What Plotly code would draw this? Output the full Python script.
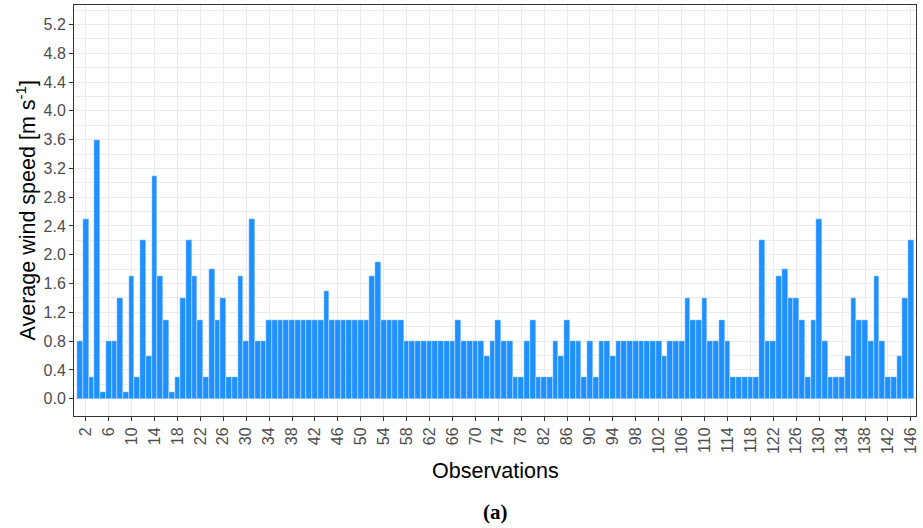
import plotly.graph_objects as go

# Data: average wind speed per observation (m/s)
observations = list(range(1, 147))
wind_speed = (
    [0.8, 2.5, 0.3, 3.6, 0.1, 0.8, 0.8, 1.4, 0.1, 1.7,
     0.3, 2.2, 0.6, 3.1, 1.7, 1.1, 0.1, 0.3, 1.4, 2.2,
     1.7, 1.1, 0.3, 1.8, 1.1, 1.4, 0.3, 0.3, 1.7, 0.8,
     2.5, 0.8, 0.8]
    + [1.1] * 10            # 34-43
    + [1.5]                 # 44
    + [1.1] * 7             # 45-51
    + [1.7, 1.9]            # 52-53
    + [1.1] * 4             # 54-57
    + [0.8] * 9             # 58-66
    + [1.1]                 # 67
    + [0.8] * 4             # 68-71
    + [0.6, 0.8, 1.1, 0.8, 0.8, 0.3, 0.3, 0.8, 1.1,   # 72-80
       0.3, 0.3, 0.3, 0.8, 0.6, 1.1, 0.8, 0.8, 0.3, 0.8,  # 81-90
       0.3, 0.8, 0.8, 0.6]  # 91-94
    + [0.8] * 8             # 95-102
    + [0.6]                 # 103
    + [0.8] * 3             # 104-106
    + [1.4, 1.1, 1.1, 1.4, 0.8, 0.8, 1.1, 0.8]  # 107-114
    + [0.3] * 5             # 115-119
    + [2.2, 0.8, 0.8, 1.7, 1.8, 1.4, 1.4, 1.1, 0.3, 1.1,  # 120-129
       2.5, 0.8, 0.3, 0.3, 0.3, 0.6, 1.4, 1.1, 1.1, 0.8,  # 130-139
       1.7, 0.8, 0.3, 0.3, 0.6, 1.4, 2.2]                 # 140-146
)
x_tick_values = list(range(2, 147, 4))
y_tick_values = [round(0.4 * i, 1) for i in range(14)]
y_tick_labels = [f"{v:.1f}" for v in y_tick_values]

BAR = "#1E90FF"
GRID = "#EBEBEB"
FRAME = "#333333"
TICKTXT = "#4D4D4D"
FONT = "Liberation Sans, Arial, sans-serif"

fig = go.Figure()
fig.add_trace(go.Bar(
    x=observations, y=wind_speed,
    marker=dict(color=BAR, line=dict(color="white", width=0.4)),
    width=1.0,
    hoverinfo="x+y",
))

fig.update_layout(
    width=923, height=528,
    margin=dict(l=74, r=7, t=5, b=112),
    paper_bgcolor="white", plot_bgcolor="white",
    bargap=0, showlegend=False,
    font=dict(family=FONT, color=TICKTXT, size=16),
)

fig.update_xaxes(
    range=[-0.05, 146.9],
    tickmode="array", tickvals=x_tick_values,
    ticktext=[str(v) for v in x_tick_values],
    tickangle=-90,
    tickfont=dict(size=16, color=TICKTXT, family=FONT),
    ticks="outside", ticklen=4, tickcolor=FRAME, tickwidth=1,
    showgrid=True, gridcolor=GRID, gridwidth=1.2,
    showline=True, linecolor=FRAME, linewidth=1, mirror=True,
    zeroline=False,
)
fig.update_yaxes(
    range=[-0.24, 5.47],
    tickmode="array", tickvals=y_tick_values, ticktext=y_tick_labels,
    tickfont=dict(size=16, color=TICKTXT, family=FONT),
    ticks="outside", ticklen=4, tickcolor=FRAME, tickwidth=1,
    showgrid=True, gridcolor=GRID, gridwidth=1.2,
    minor=dict(tickvals=[round(0.2 + 0.4 * i, 1) for i in range(14)],
               showgrid=True, gridcolor=GRID, gridwidth=0.6, ticks=""),
    showline=True, linecolor=FRAME, linewidth=1, mirror=True,
    zeroline=False,
)

fig.add_annotation(
    text="Average wind speed [m s<sup>-1</sup>]",
    xref="paper", yref="paper", x=0.0, y=0.5,
    xshift=-49, textangle=-90, showarrow=False,
    xanchor="center", yanchor="middle",
    font=dict(size=21.5, color="black", family=FONT),
)
fig.add_annotation(
    text="Observations",
    xref="paper", yref="paper", x=0.5, y=0,
    yshift=-55, showarrow=False,
    xanchor="center", yanchor="middle",
    font=dict(size=21.5, color="black", family=FONT),
)
fig.add_annotation(
    text="<b>(a)</b>",
    xref="paper", yref="paper", x=0.5, y=0,
    yshift=-96, showarrow=False,
    xanchor="center", yanchor="middle",
    font=dict(size=21, color="black", family="Liberation Serif, Times New Roman, serif"),
)

fig.write_html("out.html")
